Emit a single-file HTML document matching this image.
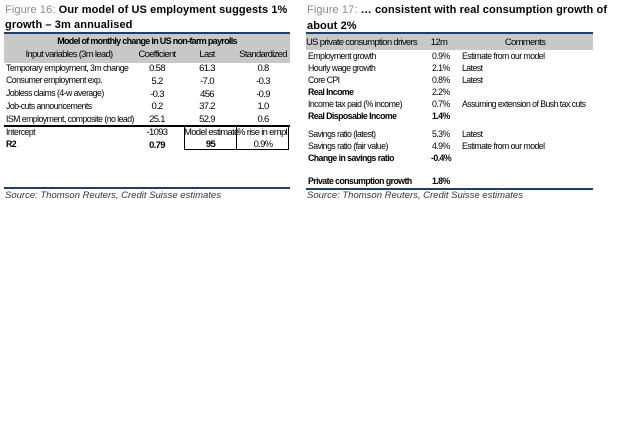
<!DOCTYPE html>
<html><head><style>
body{margin:0;width:640px;height:425px;background:#fff;position:relative;font-family:"Liberation Sans",sans-serif;color:#000;overflow:hidden}
.a{position:absolute;white-space:nowrap}
.t{font-size:11px;font-weight:bold;letter-spacing:0.1px}
.t span{color:#8a8a8a;font-weight:normal}
.n{font-size:9.5px;letter-spacing:-0.6px;transform:scaleX(0.92);transform-origin:left center;line-height:12px}
.c{text-align:center;transform:none;letter-spacing:-0.7px}
.b{font-weight:bold}
.src{font-size:9.5px;font-style:italic;color:#333}
.rule{position:absolute;height:2px;background:#1f3f66}
.gray{position:absolute;background:#c8c8c8}
</style></head><body>
<!-- Figure 16 -->
<div class="a t" style="left:5px;top:4px"><span>Figure 16:</span> Our model of US employment suggests 1%</div>
<div class="a t" style="left:5px;top:19px">growth – 3m annualised</div>
<div class="rule" style="left:4px;top:32px;width:286px"></div>
<div class="gray" style="left:4px;top:34px;width:286px;height:29px"></div>
<div class="a n c b" style="left:4px;top:35px;width:286px;font-size:9px">Model of monthly change in US non-farm payrolls</div>
<div class="a n c" style="left:4px;top:49px;width:130px">Input variables (3m lead)</div>
<div class="a n c" style="left:127px;top:49px;width:60px">Coefficient</div>
<div class="a n c" style="left:182px;top:49px;width:50px">Last</div>
<div class="a n c" style="left:237px;top:49px;width:52px">Standardized</div>

<div class="a n" style="left:6px;top:63px">Temporary employment, 3m change</div>
<div class="a n" style="left:6px;top:75px">Consumer employment exp.</div>
<div class="a n" style="left:6px;top:88px">Jobless claims (4-w average)</div>
<div class="a n" style="left:6px;top:101px">Job-cuts announcements</div>
<div class="a n" style="left:6px;top:114px">ISM employment, composite (no lead)</div>
<div class="a n" style="left:6px;top:127px">Intercept</div>
<div class="a n b" style="left:6px;top:139px">R2</div>

<div class="a n c" style="left:132px;top:63px;width:50px;line-height:12.8px">0.58<br>5.2<br>-0.3<br>0.2<br>25.1<br>-1093<br><b>0.79</b></div>
<div class="a n c" style="left:182px;top:63px;width:50px;line-height:12.8px">61.3<br>-7.0<br>456<br>37.2<br>52.9</div>
<div class="a n c" style="left:237px;top:63px;width:52px;line-height:12.8px">0.8<br>-0.3<br>-0.9<br>1.0<br>0.6</div>

<div style="position:absolute;left:4px;top:125px;width:286px;height:1.5px;background:#000"></div>
<div style="position:absolute;left:184px;top:125px;width:51px;height:24px;border:1.5px solid #000;border-top:none"></div>
<div style="position:absolute;left:236px;top:125px;width:52px;height:24px;border:1.5px solid #000;border-top:none;border-left:none"></div>
<div class="a n c" style="left:184px;top:127px;width:53px">Model estimate</div>
<div class="a n c b" style="left:184px;top:139px;width:53px">95</div>
<div class="a n c" style="left:236px;top:127px;width:54px">% rise in empl.</div>
<div class="a n c" style="left:236px;top:139px;width:54px">0.9%</div>

<div class="rule" style="left:4px;top:187px;width:286px"></div>
<div class="a src" style="left:5px;top:190px">Source: Thomson Reuters, Credit Suisse estimates</div>

<!-- Figure 17 -->
<div class="a t" style="left:307px;top:4px"><span>Figure 17:</span> … consistent with real consumption growth of</div>
<div class="a t" style="left:307px;top:20px">about 2%</div>
<div class="rule" style="left:306px;top:32px;width:287px"></div>
<div class="gray" style="left:306px;top:34px;width:287px;height:16px"></div>
<div class="a n c" style="left:306px;top:37px;width:110px">US private consumption drivers</div>
<div class="a n c" style="left:425px;top:37px;width:28px">12m</div>
<div class="a n c" style="left:470px;top:37px;width:110px">Comments</div>

<div class="a n" style="left:308px;top:51px">Employment growth</div>
<div class="a n" style="left:308px;top:63px">Hourly wage growth</div>
<div class="a n" style="left:308px;top:75px">Core CPI</div>
<div class="a n b" style="left:308px;top:87px">Real Income</div>
<div class="a n" style="left:308px;top:99px">Income tax paid (% income)</div>
<div class="a n b" style="left:308px;top:111px">Real Disposable Income</div>
<div class="a n" style="left:308px;top:129px">Savings ratio (latest)</div>
<div class="a n" style="left:308px;top:141px">Savings ratio (fair value)</div>
<div class="a n b" style="left:308px;top:153px">Change in savings ratio</div>
<div class="a n b" style="left:308px;top:176px">Private consumption growth</div>

<div class="a n" style="left:432px;top:51px">0.9%</div>
<div class="a n" style="left:432px;top:63px">2.1%</div>
<div class="a n" style="left:432px;top:75px">0.8%</div>
<div class="a n" style="left:432px;top:87px">2.2%</div>
<div class="a n" style="left:432px;top:99px">0.7%</div>
<div class="a n b" style="left:432px;top:111px">1.4%</div>
<div class="a n" style="left:432px;top:129px">5.3%</div>
<div class="a n" style="left:432px;top:141px">4.9%</div>
<div class="a n b" style="left:431px;top:153px">-0.4%</div>
<div class="a n b" style="left:432px;top:176px">1.8%</div>

<div class="a n" style="left:462px;top:51px">Estimate from our model</div>
<div class="a n" style="left:462px;top:63px">Latest</div>
<div class="a n" style="left:462px;top:75px">Latest</div>
<div class="a n" style="left:462px;top:99px">Assuming extension of Bush tax cuts</div>
<div class="a n" style="left:462px;top:129px">Latest</div>
<div class="a n" style="left:462px;top:141px">Estimate from our model</div>

<div class="rule" style="left:306px;top:188px;width:287px"></div>
<div class="a src" style="left:307px;top:190px">Source: Thomson Reuters, Credit Suisse estimates</div>
</body></html>
